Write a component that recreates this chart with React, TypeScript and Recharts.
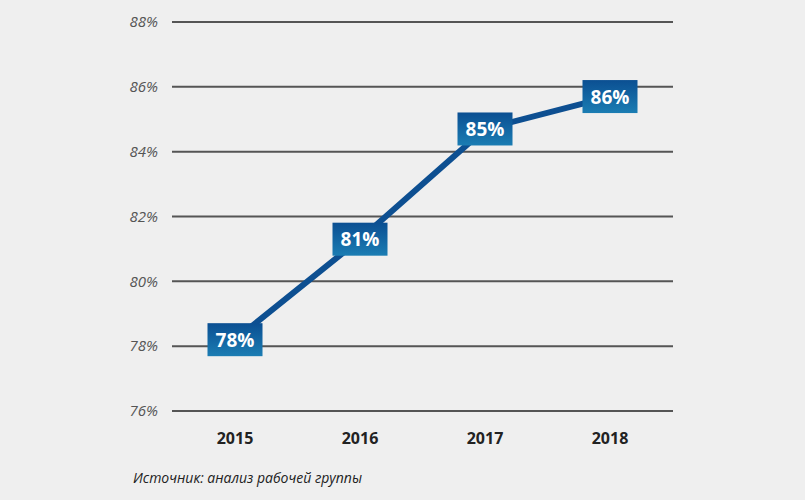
import { CartesianGrid, LabelList, Line, LineChart, XAxis, YAxis } from "recharts";

const years = ["2015", "2016", "2017", "2018"];
const shares = [78.2, 81.3, 84.7, 85.7];
const shareLabels = ["78%", "81%", "85%", "86%"];
const yTicks = [76, 78, 80, 82, 84, 86, 88];

const data = years.map((y, i) => ({ year: y, share: shares[i], label: shareLabels[i] }));
const font = "'Liberation Sans Narrow', 'Open Sans', Arial, sans-serif";

function BoxLabel(props: any) {
  const { x, y, value } = props;
  return (
    <g>
      <rect x={x - 27.5} y={y - 16.5} width={55} height={33} fill="url(#boxGrad)" />
      <text x={x} y={y + 7} textAnchor="middle" fill="#fff" fontSize={19} fontWeight="bold" fontFamily={font}>
        {value}
      </text>
    </g>
  );
}

export default function App() {
  return (
    <div style={{ position: "absolute", left: 0, top: 0, width: 805, height: 500, background: "#efefef" }}>
      <LineChart width={805} height={500} data={data} margin={{ top: 22, right: 132, bottom: 0, left: 0 }}>
        <defs>
          <linearGradient id="boxGrad" x1="0" y1="0" x2="0" y2="1">
            <stop offset="0%" stopColor="#0b4f92" />
            <stop offset="100%" stopColor="#1b7db3" />
          </linearGradient>
        </defs>
        <CartesianGrid vertical={false} stroke="#555" strokeWidth={2} />
        <XAxis
          dataKey="year"
          height={89}
          padding={{ left: 63, right: 63 }}
          axisLine={false}
          tickLine={false}
          tickMargin={16}
          tick={{ fill: "#222", fontSize: 16, fontWeight: "bold", fontFamily: font }}
        />
        <YAxis
          width={172}
          domain={[76, 88]}
          ticks={yTicks}
          tickFormatter={(v: number) => `${v}%`}
          axisLine={false}
          tickLine={false}
          tickSize={0}
          tickMargin={14}
          tick={{ fill: "#555", fontSize: 15, fontStyle: "italic", fontFamily: font }}
        />
        <Line dataKey="share" stroke="#0d4f91" strokeWidth={6} dot={false} isAnimationActive={false}>
          <LabelList dataKey="label" content={<BoxLabel />} />
        </Line>
      </LineChart>
      <div style={{ position: "absolute", left: 133, top: 468, fontFamily: font, fontStyle: "italic", fontSize: 14, color: "#222" }}>
        Источник: анализ рабочей группы
      </div>
    </div>
  );
}
